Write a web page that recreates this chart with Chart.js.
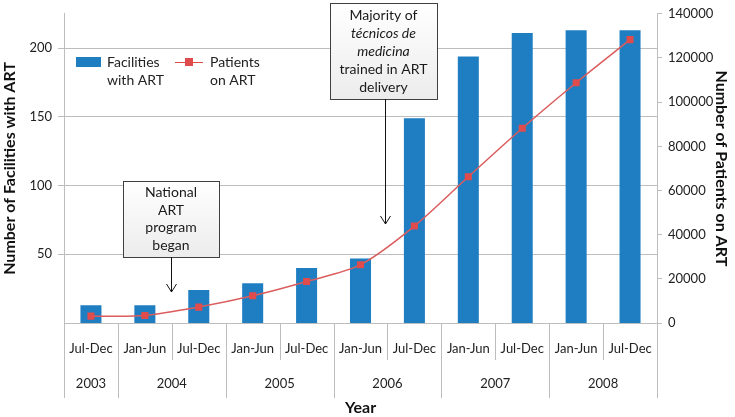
<!DOCTYPE html>
<html>
<head>
<meta charset="utf-8">
<script src="https://cdn.jsdelivr.net/npm/chart.js@4"></script>
<style>
  body { margin: 0; background: #fff; }
  canvas { display: block; }
</style>
</head>
<body>
<canvas id="artChart" width="735" height="417"></canvas>
<script>
// data
const halves = ['Jul-Dec', 'Jan-Jun', 'Jul-Dec', 'Jan-Jun', 'Jul-Dec', 'Jan-Jun', 'Jul-Dec', 'Jan-Jun', 'Jul-Dec', 'Jan-Jun', 'Jul-Dec'];
const years = ['2003', '2004', '2004', '2005', '2005', '2006', '2006', '2007', '2007', '2008', '2008'];
const facilities = [13, 13, 24, 29, 40, 47, 149, 194, 211, 213, 213];
const patients = [3100, 3400, 7200, 12300, 18800, 26400, 43900, 66200, 88200, 108800, 128300];
const leftTicks = [50, 100, 150, 200];
const rightTicks = [0, 20000, 40000, 60000, 80000, 100000, 120000, 140000];

const BLUE = '#1f7ec2';
const RED = '#e04b4b';
const GRID = '#bdbdbd';
const FONT = 'Lato, "Open Sans", sans-serif';

function drawBox(ctx, x, y, w, h, lines, arrowX, arrowY) {
    ctx.save();
    const g = ctx.createLinearGradient(0, y, 0, y + h);
    g.addColorStop(0, '#ffffff');
    g.addColorStop(1, '#ececec');
    ctx.fillStyle = g;
    ctx.fillRect(x, y, w, h);
    ctx.strokeStyle = '#404040';
    ctx.lineWidth = 1;
    ctx.strokeRect(x + 0.5, y + 0.5, w, h);
    ctx.fillStyle = '#1a1a1a';
    ctx.textAlign = 'center';
    ctx.textBaseline = 'middle';
    const lh = (h - 6) / lines.length;
    lines.forEach((l, i) => {
        ctx.font = (l.italic ? 'italic ' : '') + '14px ' + FONT;
        ctx.fillText(l.text, x + w / 2, y + 3 + lh * (i + 0.5));
    });
    // arrow
    ctx.beginPath();
    ctx.moveTo(arrowX + 0.5, y + h);
    ctx.lineTo(arrowX + 0.5, arrowY);
    ctx.moveTo(arrowX - 4.5, arrowY - 8);
    ctx.lineTo(arrowX + 0.5, arrowY);
    ctx.lineTo(arrowX + 5.5, arrowY - 8);
    ctx.strokeStyle = '#111';
    ctx.stroke();
    ctx.restore();
}

const extrasPlugin = {
    id: 'extras',
    afterDraw(chart) {
        const ctx = chart.ctx;
        const x = chart.scales.x;
        const area = chart.chartArea;
        const n = halves.length;
        const cw = (x.right - x.left) / n;
        ctx.save();
        ctx.strokeStyle = GRID;
        ctx.lineWidth = 1;
        // separators under the x axis
        for (let i = 0; i <= n; i++) {
            const px = Math.round(x.left + cw * i) + 0.5;
            const long = i === 0 || i === n || years[i] !== years[i - 1];
            ctx.beginPath();
            ctx.moveTo(px, area.bottom);
            ctx.lineTo(px, long ? 398 : 360);
            ctx.stroke();
        }
        // year labels
        ctx.fillStyle = '#222';
        ctx.font = '13px ' + FONT;
        ctx.textAlign = 'center';
        ctx.textBaseline = 'middle';
        let s = 0;
        for (let i = 1; i <= n; i++) {
            if (i === n || years[i] !== years[s]) {
                const cx = (x.getPixelForValue(s) + x.getPixelForValue(i - 1)) / 2;
                ctx.fillText(years[s], cx, 384);
                s = i;
            }
        }
        // legend inside the plot
        const ds = chart.data.datasets;
        ctx.fillStyle = BLUE;
        ctx.fillRect(76, 57, 25, 10);
        ctx.fillStyle = '#222';
        ctx.font = '14px ' + FONT;
        ctx.textAlign = 'left';
        const l0 = ds[0].label.split('\n');
        ctx.fillText(l0[0], 107, 62);
        ctx.fillText(l0[1], 107, 80);
        ctx.strokeStyle = RED;
        ctx.beginPath();
        ctx.moveTo(175, 62.5);
        ctx.lineTo(203, 62.5);
        ctx.stroke();
        ctx.fillStyle = RED;
        ctx.fillRect(185, 58, 8, 8);
        ctx.fillStyle = '#222';
        const l1 = ds[1].label.split('\n');
        ctx.fillText(l1[0], 210, 62);
        ctx.fillText(l1[1], 210, 80);
        ctx.restore();

        drawBox(ctx, 123, 181, 96, 76,
            [{text: 'National'}, {text: 'ART'}, {text: 'program'}, {text: 'began'}], 171, 292);
        drawBox(ctx, 330, 3, 107, 96,
            [{text: 'Majority of'}, {text: 'técnicos de', italic: true}, {text: 'medicina', italic: true},
             {text: 'trained in ART'}, {text: 'delivery'}], 385, 224);

        // x axis title
        ctx.save();
        ctx.font = 'bold 16px ' + FONT;
        ctx.fillStyle = '#111';
        ctx.textAlign = 'center';
        ctx.textBaseline = 'middle';
        ctx.fillText('Year', (area.left + area.right) / 2, 408);
        ctx.restore();
    }
};

new Chart('artChart', {
    data: {
        labels: halves,
        datasets: [{
            type: 'bar',
            label: 'Facilities\nwith ART',
            data: facilities,
            yAxisID: 'y',
            backgroundColor: BLUE,
            categoryPercentage: 1,
            barPercentage: 0.39,
            order: 1
        }, {
            type: 'line',
            label: 'Patients\non ART',
            data: patients,
            yAxisID: 'y1',
            borderColor: '#db5c5c',
            borderWidth: 1.5,
            backgroundColor: RED,
            pointStyle: 'rect',
            pointRadius: 5,
            pointBorderWidth: 0,
            tension: 0.3,
            order: 0
        }]
    },
    options: {
        responsive: false,
        animation: false,
        layout: { padding: { top: 5, left: 0, right: 0, bottom: 0 } },
        plugins: { legend: { display: false }, tooltip: { enabled: false } },
        scales: {
            x: {
                grid: { display: false },
                border: { color: GRID },
                ticks: { color: '#222', font: { family: FONT, size: 13 }, padding: 10, maxRotation: 0 },
                afterFit(s) { s.height = 94; }
            },
            y: {
                position: 'left',
                min: 0,
                max: 225,
                afterBuildTicks(s) { s.ticks = leftTicks.map(v => ({ value: v })); },
                grid: { color: GRID, tickLength: 6 },
                border: { color: GRID },
                ticks: { color: '#222', font: { family: FONT, size: 13 }, padding: 6 },
                title: { display: true, text: 'Number of Facilities with ART', color: '#111',
                    font: { family: FONT, size: 16, weight: 'bold' }, padding: { top: 0, bottom: 2 } },
                afterFit(s) { s.width = 64; }
            },
            y1: {
                position: 'right',
                min: 0,
                max: 140000,
                afterBuildTicks(s) { s.ticks = rightTicks.map(v => ({ value: v })); },
                grid: { drawOnChartArea: false, color: GRID, tickLength: 5 },
                border: { color: GRID },
                ticks: { color: '#222', font: { family: FONT, size: 13 }, padding: 6, callback: v => String(v) },
                title: { display: true, text: 'Number of Patients on ART', color: '#111',
                    font: { family: FONT, size: 16, weight: 'bold' }, padding: { top: 4, bottom: 0 } },
                afterFit(s) { s.width = 78; }
            }
        }
    },
    plugins: [extrasPlugin]
});
</script>
</body>
</html>
